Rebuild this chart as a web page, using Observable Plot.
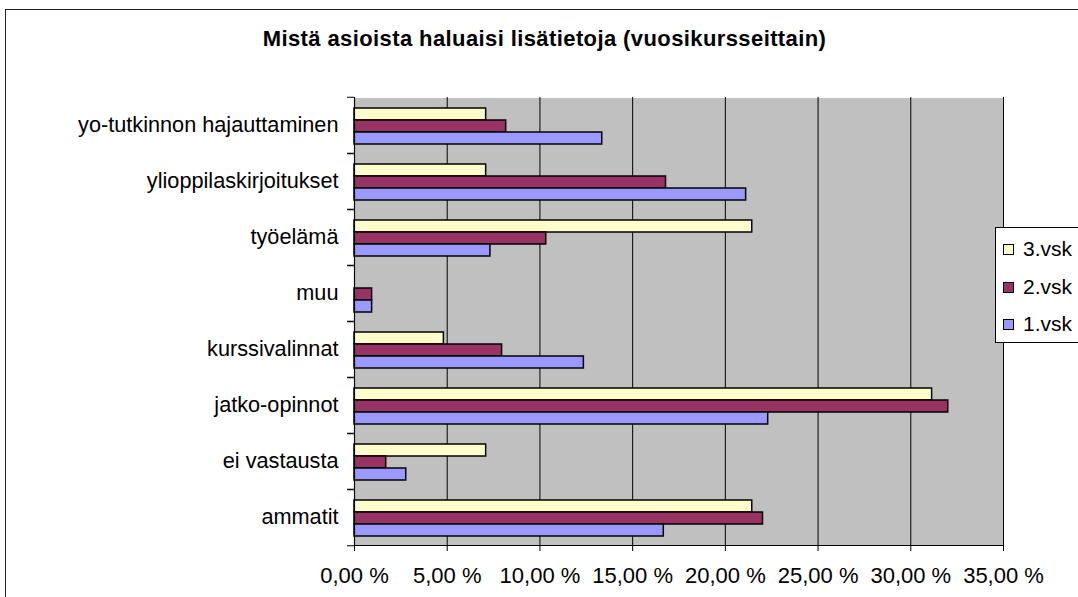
<!DOCTYPE html>
<html>
<head>
<meta charset="utf-8">
<script src="https://cdn.jsdelivr.net/npm/d3@7"></script>
<script src="https://cdn.jsdelivr.net/npm/@observablehq/plot@0.6"></script>
<style>
html, body { margin: 0; padding: 0; background: #fff; overflow: hidden; }
#wrap { position: relative; width: 1078px; height: 597px; overflow: hidden; font-family: "Liberation Sans", Arial, sans-serif; }
#chart { position: absolute; left: 0; top: 0; }
#border { position: absolute; left: 5px; top: 9px; width: 1200px; height: 800px; border: 1.5px solid #222; pointer-events: none; }
#title { position: absolute; left: 0; width: 1089px; top: 28px; text-align: center; font-weight: bold; font-size: 22px; line-height: 22px; letter-spacing: 0.4px; color: #000; white-space: nowrap; }
#legend { position: absolute; left: 995px; top: 227px; width: 140px; height: 114px; background: #fff; border: 1px solid #000; }
.item { position: absolute; left: 0; height: 22px; }
.sw { position: absolute; left: 7px; top: 6px; width: 9px; height: 9px; border: 1px solid #000; }
.lab { position: absolute; left: 27px; top: 0; font-size: 21px; line-height: 22px; white-space: nowrap; color: #000; }
</style>
</head>
<body>
<div id="wrap">
  <div id="chart"></div>
  <div id="title"></div>
  <div id="legend"></div>
  <div id="border"></div>
</div>
<script>
const titleText = "Mistä asioista haluaisi lisätietoja (vuosikursseittain)";
const categories = ["yo-tutkinnon hajauttaminen", "ylioppilaskirjoitukset", "työelämä", "muu", "kurssivalinnat", "jatko-opinnot", "ei vastausta", "ammatit"];
const series = ["3.vsk", "2.vsk", "1.vsk"];
const vsk3 = [7.10, 7.10, 21.45, 0, 4.82, 31.15, 7.10, 21.45];
const vsk2 = [8.18, 16.80, 10.34, 0.95, 7.96, 32.02, 1.71, 22.03];
const vsk1 = [13.36, 21.12, 7.33, 0.95, 12.37, 22.31, 2.79, 16.68];
const colors = ["#FFFFCC", "#993366", "#9999FF"];
const xTicks = [0, 5, 10, 15, 20, 25, 30, 35];

const seriesValues = [vsk3, vsk2, vsk1];
const data = [];
categories.forEach((c, i) => {
  series.forEach((s, j) => data.push({category: c, series: s, value: seriesValues[j][i]}));
});

const fmt = d => d.toFixed(2).replace(".", ",") + " %";
const H = 597, MT = 95, MB = 50;
const half = (H - MT - MB) / categories.length / 2;

const chart = Plot.plot({
  width: 1078,
  height: H,
  marginLeft: 354,
  marginRight: 75,
  marginTop: MT,
  marginBottom: MB,
  style: {fontFamily: "'Liberation Sans', Arial, sans-serif", color: "#000"},
  fy: {domain: categories, padding: 0, label: null},
  y: {domain: series, paddingInner: 0, paddingOuter: 0.76, align: 0.55, axis: null},
  x: {domain: [0, 35], label: null},
  color: {domain: series, range: colors},
  marks: [
    Plot.frame({fill: "#C0C0C0", stroke: null, shapeRendering: "crispEdges"}),
    Plot.ruleX(xTicks.slice(1), {stroke: "#000", strokeWidth: 1}),
    Plot.barX(data, {fy: "category", y: "series", x: "value", fill: "series", stroke: "#000", strokeWidth: 1.5}),
    Plot.ruleX([0], {stroke: "#000", strokeWidth: 1.2}),
    Plot.frame({anchor: "bottom", facetAnchor: "bottom", stroke: "#000", strokeWidth: 1.2}),
    Plot.axisX({ticks: xTicks, tickSize: 6, tickPadding: 16, tickFormat: fmt, fontSize: 22, label: null}),
    Plot.axisFy({anchor: "left", tickSize: 0, tickPadding: 16, fontSize: 21.7, label: null}),
    Plot.axisFy({anchor: "left", text: null, tickSize: 7, dy: -half, label: null}),
    Plot.axisFy({anchor: "left", text: null, tickSize: 7, dy: half, label: null})
  ]
});
document.getElementById("chart").appendChild(chart);

document.getElementById("title").textContent = titleText;
const legend = document.getElementById("legend");
series.forEach((s, j) => {
  const it = document.createElement("div");
  it.className = "item";
  it.style.top = (10 + j * 37.5) + "px";
  const sw = document.createElement("div");
  sw.className = "sw";
  sw.style.background = colors[j];
  const lab = document.createElement("div");
  lab.className = "lab";
  lab.textContent = s;
  it.appendChild(sw);
  it.appendChild(lab);
  legend.appendChild(it);
});
</script>
</body>
</html>
